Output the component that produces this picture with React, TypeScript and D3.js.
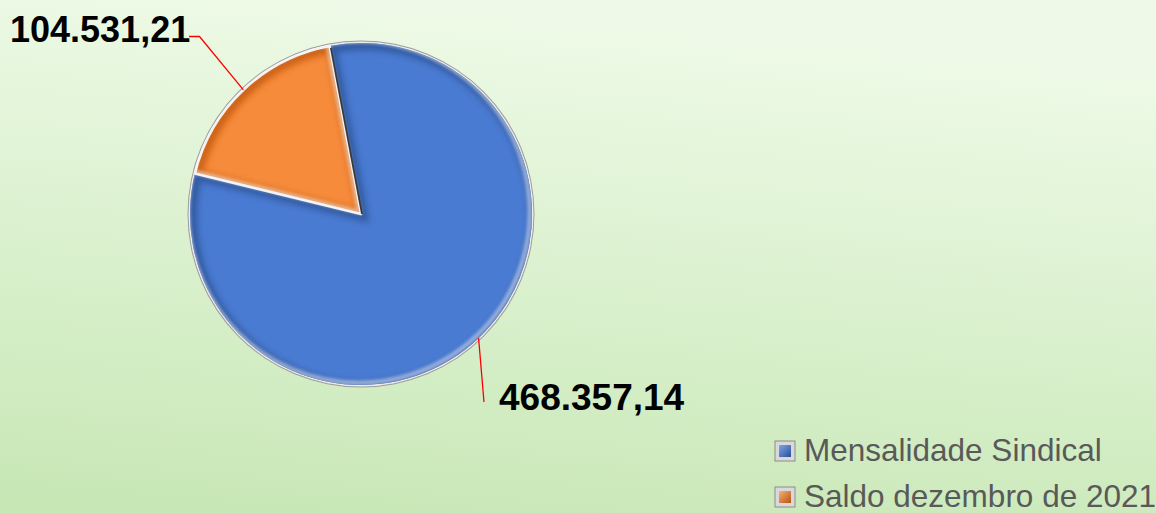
import React from "react";
import * as d3 from "d3";

const categories = ["Mensalidade Sindical", "Saldo dezembro de 2021"];
const values = [468357.14, 104531.21];
const valueLabels = ["468.357,14", "104.531,21"];
const colors = ["#4a7bd2", "#f68b3c"];
const darkColors = ["#2f5597", "#c55a11"];

const W = 1156;
const H = 513;
const cx = 361;
const cy = 214;
const R = 171;
const firstSliceAngle = 349.4; // degrees

export default function App() {
  const pie = d3
    .pie<number>()
    .sort(null)
    .value((d) => d)
    .startAngle((firstSliceAngle * Math.PI) / 180 - 2 * Math.PI)
    .endAngle((firstSliceAngle * Math.PI) / 180);
  const arcs = pie(values);
  const arc = d3.arc<d3.PieArcDatum<number>>().innerRadius(0).outerRadius(R);

  const edgePt = (a: d3.PieArcDatum<number>) => {
    const m = (a.startAngle + a.endAngle) / 2;
    return [cx + R * Math.sin(m), cy - R * Math.cos(m)];
  };

  const labelPos = [
    { x: 499, y: 410, size: 37, line: (p: number[]) => [p, [484, 402]] },
    { x: 10, y: 42, size: 36, line: (p: number[]) => [p, [199.5, 36.5], [189, 36.5]] },
  ];

  return (
    <svg width={W} height={H} style={{ position: "absolute", left: 0, top: 0 }}>
      <defs>
        <linearGradient id="bg" x1="0.3" y1="0" x2="0.1" y2="1">
          <stop offset="0" stopColor="#eefae7" />
          <stop offset="1" stopColor="#c7e7b5" />
        </linearGradient>
        <filter id="blur4" x="-20%" y="-20%" width="140%" height="140%">
          <feGaussianBlur stdDeviation="3" />
        </filter>
        <filter id="blur2" x="-20%" y="-20%" width="140%" height="140%">
          <feGaussianBlur stdDeviation="1.5" />
        </filter>
        {arcs.map((a, i) => (
          <clipPath id={`clip${i}`} key={i}>
            <path d={arc(a) || ""} transform={`translate(${cx},${cy})`} />
          </clipPath>
        ))}
        <linearGradient id="mk0" x1="0" y1="0" x2="1" y2="1">
          <stop offset="0" stopColor="#7fa6e8" />
          <stop offset="1" stopColor="#2c4f94" />
        </linearGradient>
        <linearGradient id="mk1" x1="0" y1="0" x2="1" y2="1">
          <stop offset="0" stopColor="#f9b07a" />
          <stop offset="1" stopColor="#b9530f" />
        </linearGradient>
      </defs>
      <rect x={0} y={0} width={W} height={H} fill="url(#bg)" />

      <circle cx={cx} cy={cy} r={R + 2.5} fill="#9c9c9c" />
      <circle cx={cx} cy={cy} r={R + 1.5} fill="#ececec" />

      {arcs.map((a, i) => (
        <g key={i}>
          <path d={arc(a) || ""} transform={`translate(${cx},${cy})`} fill={colors[i]} />
          <g clipPath={`url(#clip${i})`}>
            <path
              d={arc(a) || ""}
              transform={`translate(${cx + 2},${cy + 2})`}
              fill="none"
              stroke={darkColors[i]}
              strokeWidth={10}
              filter="url(#blur4)"
              opacity={0.85}
            />
            <path
              d={arc(a) || ""}
              transform={`translate(${cx - 2},${cy - 2})`}
              fill="none"
              stroke="#ffffff"
              strokeWidth={5}
              filter="url(#blur2)"
              opacity={0.45}
            />
          </g>
        </g>
      ))}
      <path
        d={arc(arcs[1]) || ""}
        transform={`translate(${cx},${cy})`}
        fill="none"
        stroke="#f4f4f4"
        strokeWidth={2.5}
        strokeLinejoin="round"
      />
      {(() => {
        const a = arcs[1].endAngle;
        return (
          <line
            x1={cx + 1}
            y1={cy}
            x2={cx + (R - 2) * Math.sin(a) + 1}
            y2={cy - (R - 2) * Math.cos(a)}
            stroke="#3a3a3a"
            strokeWidth={1.8}
          />
        );
      })()}

      {arcs.map((a, i) => {
        const p = edgePt(a);
        const pts = labelPos[i].line(p);
        return (
          <g key={i}>
            <polyline
              points={pts.map((q) => q.join(",")).join(" ")}
              fill="none"
              stroke="#ff0000"
              strokeWidth={1.3}
            />
            <text
              x={labelPos[i].x}
              y={labelPos[i].y}
              fontFamily="Liberation Sans, Arial, sans-serif"
              fontWeight="bold"
              fontSize={labelPos[i].size}
              fill="#000000"
            >
              {valueLabels[i]}
            </text>
          </g>
        );
      })}

      {categories.map((c, i) => {
        const by = 461 + i * 46;
        return (
          <g key={i}>
            <rect x={775} y={by - 20} width={20} height={20} fill="#d9d9d9" stroke="#8c8c8c" strokeWidth={1} />
            <rect x={779} y={by - 16} width={12} height={12} fill={`url(#mk${i})`} />
            <text
              x={804}
              y={by}
              fontFamily="Liberation Sans, Arial, sans-serif"
              fontSize={31.5}
              fill="#595959"
            >
              {c}
            </text>
          </g>
        );
      })}
    </svg>
  );
}
